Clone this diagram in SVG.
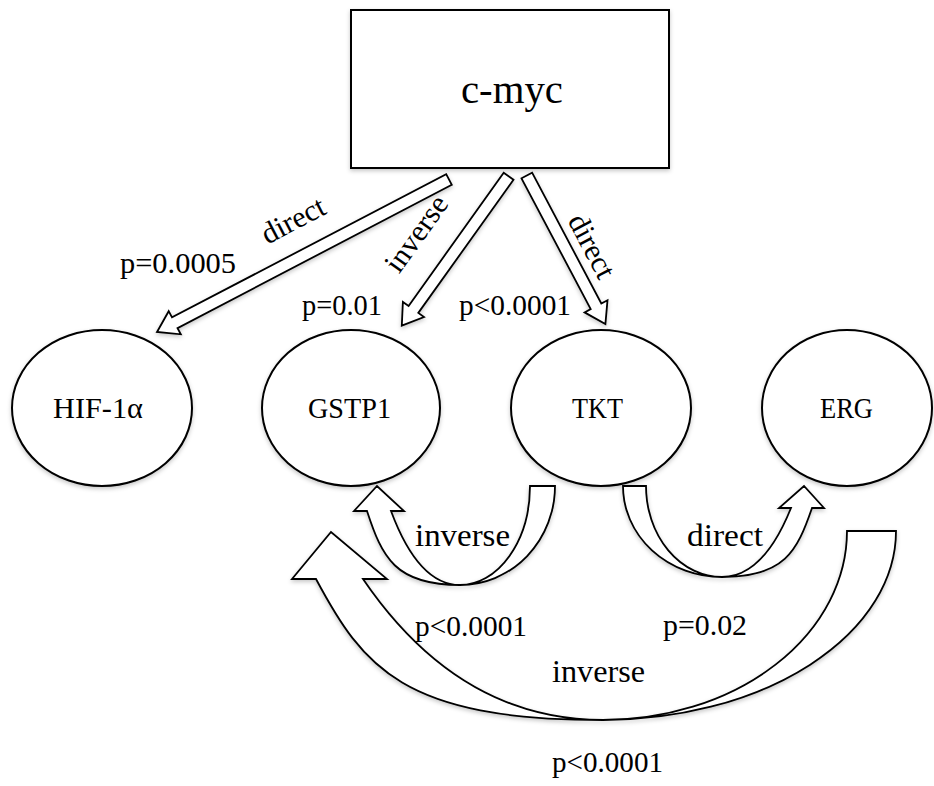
<svg xmlns="http://www.w3.org/2000/svg" width="934" height="786" viewBox="0 0 934 786">
<defs>
<filter id="sh" x="-10%" y="-10%" width="120%" height="130%">
<feDropShadow dx="0" dy="2" stdDeviation="2" flood-color="#000" flood-opacity="0.22"/>
</filter>
</defs>
<style>
.shape{fill:#fff;stroke:#000;stroke-width:2;stroke-linejoin:miter;filter:url(#sh)}
.arrow{fill:#fff;stroke:#000;stroke-width:1.8;stroke-linejoin:miter;filter:url(#sh)}
.lbl{font-family:"Liberation Serif","Times New Roman",serif;font-size:30px;fill:#000}
.word{font-size:31px}
.node{font-family:"Liberation Serif","Times New Roman",serif;font-size:29px;fill:#000;text-anchor:middle}
.title{font-size:41px}
.mid{text-anchor:middle}
</style>
<rect width="934" height="786" fill="#fff"/>

<g id="cmyc">
<rect class="shape" x="351" y="10" width="318" height="158" stroke-width="2.4"/>
<text class="node title" x="512" y="103" textLength="102" lengthAdjust="spacingAndGlyphs">c-myc</text>
</g>

<g id="hif1a">
<ellipse class="shape" cx="102" cy="408" rx="90" ry="78"/>
<text class="node" x="98" y="418" textLength="90" lengthAdjust="spacingAndGlyphs">HIF-1α</text>
</g>
<g id="gstp1">
<ellipse class="shape" cx="351" cy="408" rx="89" ry="78"/>
<text class="node" x="349.5" y="418" textLength="83" lengthAdjust="spacingAndGlyphs">GSTP1</text>
</g>
<g id="tkt">
<ellipse class="shape" cx="601" cy="408" rx="90" ry="78"/>
<text class="node" x="597.5" y="418" textLength="51" lengthAdjust="spacingAndGlyphs">TKT</text>
</g>
<g id="erg">
<ellipse class="shape" cx="847" cy="408" rx="85" ry="78"/>
<text class="node" x="846.5" y="418" textLength="53" lengthAdjust="spacingAndGlyphs">ERG</text>
</g>

<g id="connectors">
<polygon class="arrow" points="451.8,184.8 177.5,328.1 180.8,334.3 157,332 168.7,311.2 172,317.4 446.2,174.2"/>
<polygon class="arrow" points="513.5,179.8 418.3,312.9 424,317 401.8,325.7 402.9,301.9 408.6,305.9 503.7,172.8"/>
<polygon class="arrow" points="532.1,172.7 601.3,303.5 607.5,300.2 605.4,324 584.6,312.4 590.7,309.1 521.5,178.3"/>

<path class="arrow" d="M 530 486 L 555 486 A 95 99 0 0 1 460 585 C 395 585 382 557 367 511 L 354 511 L 377 486 L 404 511 L 391 511 C 404 546 425.5 585 460 585 A 70 99 0 0 0 530 486 Z"/>
<path class="arrow" d="M 623 486 L 646 486 A 76 91 0 0 0 722 577 C 756.5 577 778 540.3 791 508 L 779 508 L 804 486 L 824 508 L 812 508 C 797.2 551 784.7 577 722 577 A 99 91 0 0 1 623 486 Z"/>
<path class="arrow" d="M 847 531 L 896 531 A 293 189 0 0 1 603 720 C 403 720 363 667 316 579 L 292 579 L 331 532 L 387 579 L 363 579 C 408 645 483 720 603 720 A 244 189 0 0 0 847 531 Z"/>

<text class="lbl mid" transform="translate(293,220) rotate(-27.6)" x="0" y="10">direct</text>
<text class="lbl mid" transform="translate(417,234) rotate(-54.4)" x="0" y="9">inverse</text>
<text class="lbl mid" transform="translate(592,246) rotate(62.1)" x="0" y="10">direct</text>

<text class="lbl" x="120" y="273" textLength="116" lengthAdjust="spacingAndGlyphs">p=0.0005</text>
<text class="lbl" x="302" y="315" textLength="80" lengthAdjust="spacingAndGlyphs">p=0.01</text>
<text class="lbl" x="459" y="315" textLength="112" lengthAdjust="spacingAndGlyphs">p&lt;0.0001</text>

<text class="lbl word" x="415" y="546" textLength="95" lengthAdjust="spacingAndGlyphs">inverse</text>
<text class="lbl word" x="687" y="546" textLength="76" lengthAdjust="spacingAndGlyphs">direct</text>
<text class="lbl" x="415" y="636" textLength="112" lengthAdjust="spacingAndGlyphs">p&lt;0.0001</text>
<text class="lbl" x="663" y="635" textLength="84" lengthAdjust="spacingAndGlyphs">p=0.02</text>
<text class="lbl word" x="552" y="682" textLength="93" lengthAdjust="spacingAndGlyphs">inverse</text>
<text class="lbl" x="552" y="772" textLength="111" lengthAdjust="spacingAndGlyphs">p&lt;0.0001</text>
</g>
</svg>
